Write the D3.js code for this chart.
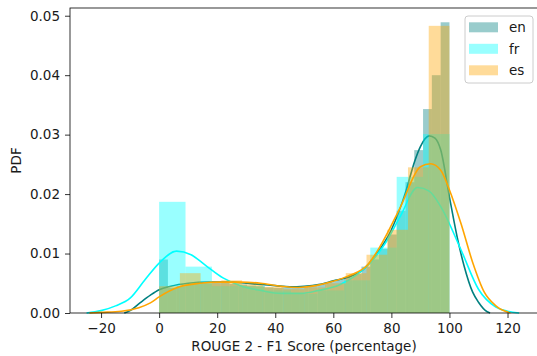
<!DOCTYPE html>
<html>
<head>
<meta charset="utf-8">
<script src="https://cdn.jsdelivr.net/npm/d3@7"></script>
<style>
  body { margin: 0; background: #fff; }
  svg { display: block; font-family: "DejaVu Sans", sans-serif; }
</style>
</head>
<body>
<svg id="chart" width="537" height="356"></svg>
<script>
// series names, in drawing order
var languages = ['en', 'fr', 'es'];
var colors = { en: '#008080', fr: '#00ffff', es: '#ffa500' };

// histogram densities, bins split evenly over 0..100
var enHist = [0.0090, 0.0042, 0.0045, 0.0048, 0.0050, 0.0050, 0.0052, 0.0051, 0.0049, 0.0048, 0.0046,
  0.0045, 0.0043, 0.0042, 0.0042, 0.0043, 0.0044, 0.0046, 0.0049, 0.0052, 0.0056, 0.0060,
  0.0066, 0.0078, 0.0090, 0.0108, 0.0132, 0.0172, 0.0220, 0.0274, 0.0343, 0.0400, 0.0489];
var frHist = [0.0187, 0.0078, 0.0045, 0.0045, 0.0038, 0.0032, 0.0038, 0.0055, 0.0110, 0.0229, 0.0301];
var esHist = [0.0045, 0.0067, 0.0050, 0.0055, 0.0048, 0.0044, 0.0040, 0.0043, 0.0050, 0.0067, 0.0098,
  0.0140, 0.0245, 0.0483];

// kde curves, [score, density]
var enKde = [[-12, 0], [-10, 0.0004], [-6.6, 0.0017], [-3, 0.0030], [0, 0.0039], [4, 0.0045], [10, 0.0050],
  [17, 0.0052], [25, 0.0052], [30, 0.0050], [35, 0.0048], [40, 0.0046], [45, 0.0044], [50, 0.0045],
  [55, 0.0048], [60, 0.0054], [65, 0.0060], [70, 0.0072], [75, 0.0100], [80, 0.0140], [85, 0.0205],
  [88, 0.0255], [90, 0.0280], [93, 0.0298], [95, 0.0294], [97, 0.0274], [100, 0.0195], [103, 0.0120],
  [105, 0.0080], [108, 0.0035], [110, 0.0018], [113, 0.0002], [114, 0]];
var frKde = [[-25, 0], [-20, 0.0004], [-15, 0.0012], [-10, 0.0025], [-5, 0.0055], [0, 0.0084], [6, 0.0104],
  [11, 0.0098], [16, 0.0080], [22, 0.0059], [28, 0.0046], [35, 0.0038], [42, 0.0033], [49, 0.0033],
  [55, 0.0038], [62, 0.0047], [68, 0.0064], [73, 0.0086], [78, 0.0118], [83, 0.0162], [89, 0.0211],
  [93, 0.0205], [97, 0.0179], [104, 0.0106], [110, 0.0040], [116, 0.0010], [120, 0.0003], [124, 0]];
var esKde = [[-24, 0], [-20, 0.0001], [-13, 0.0003], [-7, 0.0009], [-3, 0.0017], [0, 0.0027], [7, 0.0044],
  [14, 0.0050], [21, 0.0052], [28, 0.0052], [35, 0.0050], [42, 0.0045], [48, 0.0043], [54, 0.0046],
  [59, 0.0052], [65, 0.0062], [72, 0.0082], [76, 0.0111], [83, 0.0177], [90, 0.0246], [93.5, 0.0251],
  [97, 0.0240], [100, 0.0207], [104, 0.0150], [108, 0.0085], [112, 0.0035], [116, 0.0012], [121, 0]];

var xTicks = [-20, 0, 20, 40, 60, 80, 100, 120];
var yTicks = [0, 0.01, 0.02, 0.03, 0.04, 0.05];

var hists = { en: enHist, fr: frHist, es: esHist };
var kdes = { en: enKde, fr: frKde, es: esKde };

var svg = d3.select('#chart');
var plot = { left: 70, right: 538, top: 8, bottom: 313 };

var x = d3.scaleLinear().domain([-30.7, 130.5]).range([plot.left, plot.right]);
var y = d3.scaleLinear().domain([0, 0.0513]).range([plot.bottom, plot.top]);

var line = d3.line()
  .x(function (d) { return x(d[0]); })
  .y(function (d) { return y(d[1]); })
  .curve(d3.curveMonotoneX);

// seaborn order: hist then kde for each language
languages.forEach(function (lang) {
  var heights = hists[lang];
  var w = 100 / heights.length;
  svg.append('g').selectAll('rect').data(heights).enter().append('rect')
    .attr('x', function (d, i) { return x(i * w); })
    .attr('width', function (d, i) { return x((i + 1) * w) - x(i * w); })
    .attr('y', function (d) { return y(d); })
    .attr('height', function (d) { return y(0) - y(d); })
    .attr('fill', colors[lang])
    .attr('fill-opacity', 0.4);

  svg.append('path')
    .datum(kdes[lang])
    .attr('d', line)
    .attr('fill', 'none')
    .attr('stroke', colors[lang])
    .attr('stroke-width', 1.6);
});

// axes
var xAxis = svg.append('g')
  .attr('transform', 'translate(0,' + plot.bottom + ')')
  .call(d3.axisBottom(x).tickValues(xTicks).tickSize(5).tickPadding(5)
    .tickFormat(function (d) { return d < 0 ? '\u2212' + Math.abs(d) : d; }));
var yAxis = svg.append('g')
  .attr('transform', 'translate(' + plot.left + ',0)')
  .call(d3.axisLeft(y).tickValues(yTicks).tickSize(5).tickPadding(5).tickFormat(d3.format('.2f')));

[xAxis, yAxis].forEach(function (a) {
  a.select('.domain').remove();
  a.selectAll('line').attr('stroke', '#000').attr('stroke-width', 0.8);
  a.selectAll('text').attr('fill', '#1a1a1a').style('font-size', '13.5px')
    .style('font-family', '"DejaVu Sans", sans-serif');
});

svg.append('rect')
  .attr('x', plot.left).attr('y', plot.top)
  .attr('width', plot.right - plot.left).attr('height', plot.bottom - plot.top)
  .attr('fill', 'none').attr('stroke', '#000').attr('stroke-width', 0.8);

svg.append('text')
  .attr('x', (plot.left + plot.right) / 2).attr('y', 351)
  .attr('text-anchor', 'middle').attr('fill', '#1a1a1a').style('font-size', '13.5px')
  .text('ROUGE 2 - F1 Score (percentage)');

svg.append('text')
  .attr('transform', 'translate(21,' + ((plot.top + plot.bottom) / 2) + ') rotate(-90)')
  .attr('text-anchor', 'middle').attr('fill', '#1a1a1a').style('font-size', '13.5px')
  .text('PDF');

// legend
var legend = svg.append('g').attr('transform', 'translate(465,16)');
legend.append('rect')
  .attr('width', 68).attr('height', 67).attr('rx', 3)
  .attr('fill', '#fff').attr('fill-opacity', 0.8)
  .attr('stroke', '#ccc').attr('stroke-width', 1);
languages.forEach(function (lang, i) {
  var row = legend.append('g').attr('transform', 'translate(4,' + (11.3 + i * 21.5) + ')');
  row.append('rect').attr('x', 0).attr('y', -5).attr('width', 29).attr('height', 10)
    .attr('fill', colors[lang]).attr('fill-opacity', 0.4);
  row.append('text').attr('x', 40).attr('y', 5).attr('fill', '#1a1a1a')
    .style('font-size', '13.5px').text(lang);
});
</script>
</body>
</html>
